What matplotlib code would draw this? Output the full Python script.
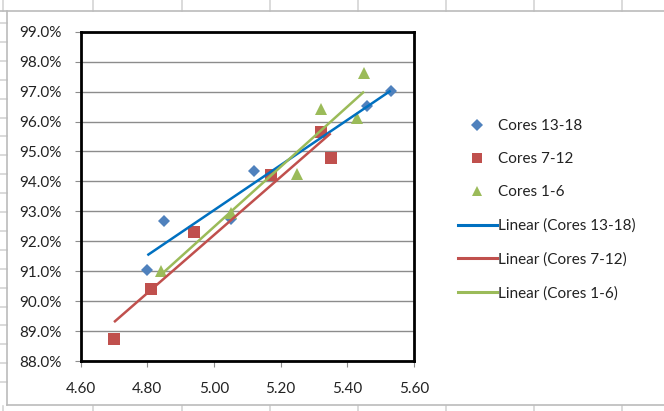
import numpy as np
import matplotlib
matplotlib.use("Agg")
import matplotlib.pyplot as plt
from matplotlib.lines import Line2D
from matplotlib.ticker import FuncFormatter, MultipleLocator

plt.rcParams['font.family'] = ['Lato', 'DejaVu Sans']

# Measured samples: x value vs. yield (%)
cores_13_18_x = [4.80, 4.85, 5.05, 5.12, 5.46, 5.53]
cores_13_18_y = [91.04, 92.66, 92.75, 94.35, 96.51, 97.02]

cores_7_12_x = [4.70, 4.81, 4.94, 5.17, 5.32, 5.35]
cores_7_12_y = [88.73, 90.39, 92.32, 94.21, 95.65, 94.77]

cores_1_6_x = [4.84, 5.05, 5.25, 5.32, 5.43, 5.45]
cores_1_6_y = [91.02, 92.93, 94.25, 96.41, 96.11, 97.61]

series_names = ["Cores 13-18", "Cores 7-12", "Cores 1-6"]
marker_colors = ["#4F81BD", "#C0504D", "#9BBB59"]
trend_colors = ["#0070C0", "#C0504D", "#9BBB59"]
markers = ["D", "s", "^"]
marker_sizes = [6.5, 8, 8.5]

W, H = 664, 411
fig = plt.figure(figsize=(W / 100, H / 100), dpi=100)
fig.patch.set_facecolor("white")


def fx(px):
    return px / W


def fy(py):
    return 1 - py / H


# Worksheet cell grid around the embedded chart
grid_c = "#D4D4D4"
for cx in [3, 93, 182, 270, 358, 446, 534, 622]:
    fig.add_artist(Line2D([fx(cx), fx(cx)], [fy(0), fy(11)], color=grid_c, lw=1.2,
                          transform=fig.transFigure))
    fig.add_artist(Line2D([fx(cx), fx(cx)], [fy(406), fy(411)], color=grid_c, lw=1.2,
                          transform=fig.transFigure))
for k in range(20):
    ry = 23 + 18.9 * k
    fig.add_artist(Line2D([fx(0), fx(7)], [fy(ry), fy(ry)], color=grid_c, lw=1.2,
                          transform=fig.transFigure))

# Chart area frame
frame_c = "#BBBBBB"
fig.add_artist(Line2D([fx(0), fx(664)], [fy(11.5), fy(11.5)], color=frame_c, lw=1.2,
                      transform=fig.transFigure))
fig.add_artist(Line2D([fx(7), fx(664)], [fy(405), fy(405)], color=frame_c, lw=1.2,
                      transform=fig.transFigure))
fig.add_artist(Line2D([fx(7), fx(7)], [fy(11.5), fy(405)], color=frame_c, lw=1.2,
                      transform=fig.transFigure))

left, right, top, bottom = 80.7, 414, 31.7, 361
ax = fig.add_axes([fx(left), fy(bottom), fx(right - left), fy(top) - fy(bottom)])

xs = [cores_13_18_x, cores_7_12_x, cores_1_6_x]
ys = [cores_13_18_y, cores_7_12_y, cores_1_6_y]

# Scatter points
for x, y, m, c, s in zip(xs, ys, markers, marker_colors, marker_sizes):
    ax.plot(x, y, linestyle="none", marker=m, color=c, markersize=s,
            markeredgewidth=0, zorder=3)

# Linear trend lines over each series' x range
for x, y, c in zip(xs, ys, trend_colors):
    x = np.asarray(x)
    slope, intercept = np.polyfit(x, np.asarray(y), 1)
    xx = np.array([x.min(), x.max()])
    ax.plot(xx, slope * xx + intercept, color=c, lw=1.8, zorder=4,
            solid_capstyle="butt")

ax.set_xlim(4.6, 5.6)
ax.set_ylim(88, 99)
ax.xaxis.set_major_locator(MultipleLocator(0.2))
ax.yaxis.set_major_locator(MultipleLocator(1))
ax.xaxis.set_major_formatter(FuncFormatter(lambda v, p: f"{v:.2f}"))
ax.yaxis.set_major_formatter(FuncFormatter(lambda v, p: f"{v:.1f}%"))
ax.grid(axis="y", color="#8C8C8C", lw=1.0)
ax.set_axisbelow(True)
for sp in ax.spines.values():
    sp.set_linewidth(2.0)
    sp.set_color("black")
ax.tick_params(axis="both", direction="out", length=4, width=0.8, color="#8C8C8C",
               labelsize=11, labelcolor="#222222")
ax.tick_params(axis="y", pad=10)
ax.tick_params(axis="x", pad=11)

# Legend
handles = []
labels = []
for n, m, c, s in zip(series_names, markers, marker_colors, marker_sizes):
    handles.append(Line2D([], [], linestyle="none", marker=m, color=c,
                          markersize=s * 0.9, markeredgewidth=0))
    labels.append(n)
for n, c in zip(series_names, trend_colors):
    handles.append(Line2D([], [], color=c, lw=2.2))
    labels.append(f"Linear ({n})")
leg = fig.legend(handles, labels, loc="upper left",
                 bbox_to_anchor=(fx(458), fy(119)), frameon=False,
                 fontsize=11, handlelength=2.55, handletextpad=0.05,
                 labelspacing=1.26, borderpad=0, borderaxespad=0)
for t in leg.get_texts():
    t.set_color("#222222")

fig.savefig("out.png", dpi=100)
